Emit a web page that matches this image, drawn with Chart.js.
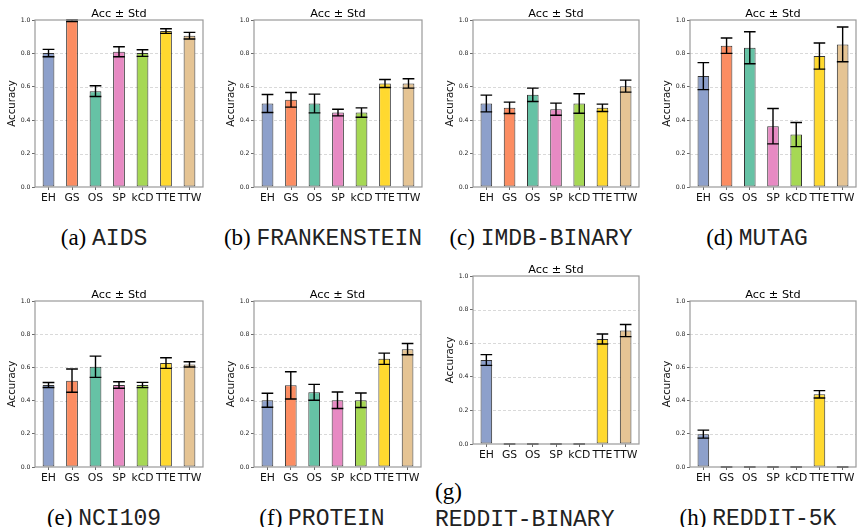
<!DOCTYPE html>
<html>
<head>
<meta charset="UTF-8">
<title>Acc ± Std</title>
<script src="https://cdn.jsdelivr.net/npm/chart.js"></script>
<style>
    body { margin: 0; background: #fff; width: 857px; height: 527px; position: relative; overflow: hidden; }
    canvas { position: absolute; }
    .cap {
        position: absolute;
        font-family: 'Liberation Serif', 'Times New Roman', serif;
        font-size: 23px;
        line-height: 23px;
        white-space: nowrap;
        color: #000;
    }
    .mono { font-family: 'Nimbus Mono PS', 'Courier', 'FreeMono', 'Liberation Mono', monospace; color: #222; }
</style>
</head>
<body>
    <canvas id="cA"></canvas>
    <canvas id="cB"></canvas>
    <canvas id="cC"></canvas>
    <canvas id="cD"></canvas>
    <canvas id="cE"></canvas>
    <canvas id="cF"></canvas>
    <canvas id="cG"></canvas>
    <canvas id="cH"></canvas>

    <div class="cap" style="left:104px; top:226px; transform:translateX(-50%)">(a) <span class="mono">AIDS</span></div>
    <div class="cap" style="left:323px; top:226px; transform:translateX(-50%)">(b) <span class="mono">FRANKENSTEIN</span></div>
    <div class="cap" style="left:541px; top:226px; transform:translateX(-50%)">(c) <span class="mono">IMDB-BINARY</span></div>
    <div class="cap" style="left:757px; top:226px; transform:translateX(-50%)">(d) <span class="mono">MUTAG</span></div>
    <div class="cap" style="left:104px; top:506px; transform:translateX(-50%)">(e) <span class="mono">NCI109</span></div>
    <div class="cap" style="left:322px; top:506px; transform:translateX(-50%)">(f) <span class="mono">PROTEIN</span></div>
    <div class="cap" style="left:435px; top:480px;">(g)</div>
    <div class="cap" style="left:435px; top:507px;"><span class="mono">REDDIT-BINARY</span></div>
    <div class="cap" style="left:758px; top:506px; transform:translateX(-50%)">(h) <span class="mono">REDDIT-5K</span></div>

<script>
    // categories and colours (Set2)
    const methods = ['EH', 'GS', 'OS', 'SP', 'kCD', 'TTE', 'TTW'];
    const colors = ['#8da0cb', '#fc8d62', '#66c2a5', '#e78ac3', '#a6d854', '#ffd92f', '#e5c494'];
    const yTicks = [0, 0.2, 0.4, 0.6, 0.8, 1.0];
    const gridVals = [0.2, 0.4, 0.6, 0.8];

    // mean accuracy and std per dataset
    const aidsMean = [0.802, 0.995, 0.574, 0.810, 0.802, 0.934, 0.906];
    const aidsStd  = [0.022, 0.005, 0.032, 0.030, 0.020, 0.014, 0.020];

    const frankMean = [0.500, 0.522, 0.500, 0.446, 0.446, 0.620, 0.620];
    const frankStd  = [0.054, 0.044, 0.056, 0.020, 0.028, 0.024, 0.028];

    const imdbMean = [0.500, 0.474, 0.552, 0.466, 0.500, 0.474, 0.604];
    const imdbStd  = [0.050, 0.034, 0.040, 0.036, 0.058, 0.022, 0.036];

    const mutagMean = [0.664, 0.846, 0.834, 0.364, 0.314, 0.784, 0.854];
    const mutagStd  = [0.081, 0.046, 0.096, 0.106, 0.072, 0.078, 0.104];

    const nciMean = [0.494, 0.520, 0.604, 0.494, 0.494, 0.626, 0.618];
    const nciStd  = [0.015, 0.070, 0.064, 0.020, 0.016, 0.032, 0.016];

    const proteinMean = [0.402, 0.492, 0.450, 0.402, 0.402, 0.652, 0.710];
    const proteinStd  = [0.042, 0.082, 0.048, 0.050, 0.044, 0.034, 0.034];

    const redditBMean = [0.500, 0, 0, 0, 0, 0.625, 0.675];
    const redditBStd  = [0.032, 0, 0, 0, 0, 0.030, 0.036];

    const reddit5Mean = [0.198, 0, 0, 0, 0, 0.438, 0];
    const reddit5Std  = [0.024, 0, 0, 0, 0, 0.022, 0];

    const Y_W = 35, X_H = 22, TOP = 20;

    const errPlugin = {
        id: 'errbars',
        beforeDatasetsDraw(chart) {
            const { ctx, chartArea: a, scales: { y } } = chart;
            ctx.save();
            ctx.strokeStyle = '#cfcfcf';
            ctx.lineWidth = 0.8;
            ctx.setLineDash([3, 2]);
            gridVals.forEach(v => {
                const py = Math.round(y.getPixelForValue(v)) + 0.5;
                ctx.beginPath();
                ctx.moveTo(a.left, py);
                ctx.lineTo(a.right, py);
                ctx.stroke();
            });
            ctx.restore();
        },
        afterDatasetsDraw(chart, args, opts) {
            const { ctx, chartArea: a, scales: { y } } = chart;
            const meta = chart.getDatasetMeta(0);
            const data = chart.data.datasets[0].data;
            ctx.save();
            ctx.strokeStyle = '#000';
            ctx.lineWidth = 1.4;
            meta.data.forEach((bar, i) => {
                const m = data[i].y, s = opts.std[i];
                const half = bar.width / 2;
                const top = y.getPixelForValue(m + s);
                const bot = y.getPixelForValue(m - s);
                ctx.beginPath();
                ctx.moveTo(bar.x, top); ctx.lineTo(bar.x, bot);
                ctx.moveTo(bar.x - half, top); ctx.lineTo(bar.x + half, top);
                ctx.moveTo(bar.x - half, bot); ctx.lineTo(bar.x + half, bot);
                ctx.stroke();
            });
            // frame
            ctx.strokeStyle = '#9a9a9a';
            ctx.lineWidth = 1.2;
            ctx.strokeRect(a.left, a.top, a.right - a.left, a.bottom - a.top);
            // title
            ctx.fillStyle = '#000';
            ctx.font = '11.3px "DejaVu Sans"';
            ctx.textAlign = 'center';
            ctx.textBaseline = 'alphabetic';
            ctx.fillText('Acc ± Std', (a.left + a.right) / 2, a.top - 3);
            ctx.restore();
        }
    };

    function noPad(s) {
        s.paddingLeft = 0; s.paddingRight = 0; s.paddingTop = 0; s.paddingBottom = 0;
    }

    function makePanel(id, rect, mean, std) {
        const [L, T, R, B] = rect;
        const cv = document.getElementById(id);
        const w = R - L + Y_W + 1, h = B - T + TOP + X_H;
        cv.width = w; cv.height = h;
        cv.style.left = (L - Y_W) + 'px';
        cv.style.top = (T - TOP) + 'px';
        cv.style.width = w + 'px';
        cv.style.height = h + 'px';

        new Chart(cv.getContext('2d'), {
            type: 'bar',
            data: {
                datasets: [{
                    data: mean.map((v, i) => ({ x: i, y: v })),
                    backgroundColor: colors,
                    borderColor: 'rgba(30,30,30,0.9)',
                    borderWidth: 1,
                    borderSkipped: false,
                    barPercentage: 0.5,
                    categoryPercentage: 1.0
                }]
            },
            options: {
                responsive: false,
                devicePixelRatio: 1,
                animation: false,
                layout: { padding: { top: TOP, right: 1, left: 0, bottom: 0 } },
                plugins: {
                    legend: { display: false },
                    tooltip: { enabled: false },
                    errbars: { std: std }
                },
                scales: {
                    x: {
                        type: 'linear',
                        offset: false,
                        min: -0.575,
                        max: 6.575,
                        afterBuildTicks: s => { s.ticks = methods.map((_, i) => ({ value: i })); },
                        afterFit: s => { s.height = X_H; noPad(s); },
                        grid: { display: true, offset: false, drawOnChartArea: false, drawTicks: true, tickLength: 3, tickColor: '#444', tickWidth: 0.8 },
                        border: { display: false },
                        ticks: {
                            callback: v => methods[v],
                            maxRotation: 0, minRotation: 0, autoSkip: false,
                            padding: 1.5,
                            color: '#111',
                            font: { family: 'DejaVu Sans', size: 10.8 }
                        }
                    },
                    y: {
                        min: 0,
                        max: 1,
                        afterBuildTicks: s => { s.ticks = yTicks.map(v => ({ value: v })); },
                        afterFit: s => { s.width = Y_W; noPad(s); },
                        grid: { display: true, drawOnChartArea: false, drawTicks: true, tickLength: 3, tickColor: '#444', tickWidth: 0.8 },
                        border: { display: false },
                        ticks: {
                            callback: v => v.toFixed(1),
                            padding: 1.5,
                            color: '#222',
                            font: { family: 'DejaVu Sans', size: 6.2 }
                        },
                        title: {
                            display: true,
                            text: 'Accuracy',
                            color: '#111',
                            padding: { top: 6, bottom: 0 },
                            font: { family: 'DejaVu Sans', size: 10.2 }
                        }
                    }
                }
            },
            plugins: [errPlugin]
        });
    }

    makePanel('cA', [35, 20, 203, 187], aidsMean, aidsStd);
    makePanel('cB', [254, 20, 422, 187], frankMean, frankStd);
    makePanel('cC', [473, 20, 639, 187], imdbMean, imdbStd);
    makePanel('cD', [690, 20, 856, 187], mutagMean, mutagStd);
    makePanel('cE', [35, 301, 203, 467], nciMean, nciStd);
    makePanel('cF', [254, 301, 421, 467], proteinMean, proteinStd);
    makePanel('cG', [473, 276, 639, 444], redditBMean, redditBStd);
    makePanel('cH', [690, 301, 856, 467], reddit5Mean, reddit5Std);
</script>
</body>
</html>
